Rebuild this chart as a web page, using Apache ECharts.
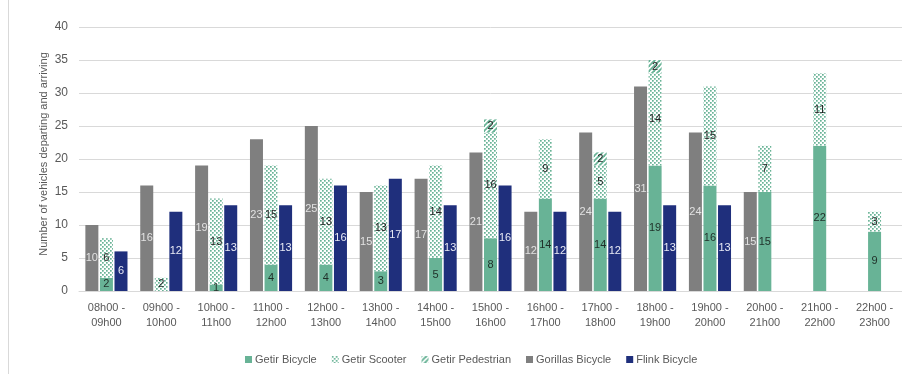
<!DOCTYPE html>
<html>
<head>
<meta charset="utf-8">
<script src="https://cdn.jsdelivr.net/npm/echarts@6/dist/echarts.min.js"></script>
<style>
html,body{margin:0;padding:0;background:#fff;}
#chart{width:902px;height:374px;}
</style>
</head>
<body>
<div id="chart"></div>
<script>
var categories = ['08h00 -\n09h00','09h00 -\n10h00','10h00 -\n11h00','11h00 -\n12h00','12h00 -\n13h00','13h00 -\n14h00','14h00 -\n15h00','15h00 -\n16h00','16h00 -\n17h00','17h00 -\n18h00','18h00 -\n19h00','19h00 -\n20h00','20h00 -\n21h00','21h00 -\n22h00','22h00 -\n23h00'];
var gorillasBicycle = [10,16,19,23,25,15,17,21,12,24,31,24,15,null,null];
var getirBicycle    = [2,null,1,4,4,3,5,8,14,14,19,16,15,22,9];
var getirScooter    = [6,2,13,15,13,13,14,16,9,5,14,15,7,11,3];
var getirPedestrian = [null,null,null,null,null,null,null,2,null,2,2,null,null,null,null];
var flinkBicycle    = [6,12,13,13,16,17,13,16,12,12,13,13,null,null,null];
var yTicks = [0,5,10,15,20,25,30,35,40];

var GREEN = '#68b396';
function dotPattern(){
  var c = document.createElement('canvas'); c.width = 4; c.height = 4;
  var g = c.getContext('2d');
  g.fillStyle = '#ffffff'; g.fillRect(0,0,4,4);
  g.fillStyle = GREEN;
  g.fillRect(0,0,1.7,1.7); g.fillRect(2,2,1.7,1.7);
  return c;
}
function stripePattern(){
  var c = document.createElement('canvas'); c.width = 5; c.height = 5;
  var g = c.getContext('2d');
  g.fillStyle = '#ffffff'; g.fillRect(0,0,5,5);
  g.strokeStyle = GREEN; g.lineWidth = 1.8;
  g.beginPath(); g.moveTo(-1,6); g.lineTo(6,-1); g.stroke();
  g.beginPath(); g.moveTo(-1,1); g.lineTo(1,-1); g.stroke();
  g.beginPath(); g.moveTo(4,6); g.lineTo(6,4); g.stroke();
  return c;
}
var scooterFill = {image: dotPattern(), repeat: 'repeat'};
var pedFill = {image: stripePattern(), repeat: 'repeat'};

var FONT = "'Liberation Sans', Arial, sans-serif";
function lbl(color){
  return {show:true, position:'inside', color:color, fontSize:11, fontFamily:FONT};
}

var chart = echarts.init(document.getElementById('chart'), null, {renderer:'canvas'});
chart.setOption({
  animation:false,
  backgroundColor:'#ffffff',
  grid:{left:79, right:0, top:27, bottom:83},
  legend:{
    data:['Getir Bicycle','Getir Scooter','Getir Pedestrian','Gorillas Bicycle','Flink Bicycle'],
    left:240, top:349, icon:'rect', itemWidth:7, itemHeight:7, itemGap:15,
    textStyle:{color:'#595959', fontSize:11, fontFamily:FONT, padding:[0,0,0,-2]}
  },
  graphic:[{type:'line', shape:{x1:8.5,y1:0,x2:8.5,y2:374}, style:{stroke:'#d9d9d9', lineWidth:1}}],
  xAxis:{
    type:'category', data:categories,
    axisLine:{lineStyle:{color:'#d9d9d9'}},
    axisTick:{show:false},
    axisLabel:{color:'#595959', fontSize:11, fontFamily:"'Liberation Sans Narrow', 'Liberation Sans', sans-serif", margin:9, lineHeight:15, interval:0}
  },
  yAxis:{
    type:'value', min:yTicks[0], max:yTicks[yTicks.length-1], interval:yTicks[1]-yTicks[0],
    name:'Number of vehicles departing and arriving', nameLocation:'middle', nameGap:30,
    nameMoveOverlap:false,
    nameTextStyle:{color:'#595959', fontSize:11, fontFamily:FONT, padding:[0,0,0,10]},
    axisLine:{show:false}, axisTick:{show:false},
    axisLabel:{color:'#595959', fontSize:12, fontFamily:FONT, margin:11},
    splitLine:{lineStyle:{color:'#d9d9d9', width:1}}
  },
  series:[
    {name:'Gorillas Bicycle', type:'bar', data:gorillasBicycle, barWidth:13, barGap:'12%',
     itemStyle:{color:'#7f7f7f'}, label:lbl('#e2e2e2')},
    {name:'Getir Bicycle', type:'bar', stack:'getir', data:getirBicycle, barWidth:13, barGap:'12%',
     itemStyle:{color:GREEN}, label:lbl('#1f2f28')},
    {name:'Getir Scooter', type:'bar', stack:'getir', data:getirScooter, barWidth:13, barGap:'12%',
     itemStyle:{color:scooterFill}, label:lbl('#262626')},
    {name:'Getir Pedestrian', type:'bar', stack:'getir', data:getirPedestrian, barWidth:13, barGap:'12%',
     itemStyle:{color:pedFill}, label:lbl('#262626')},
    {name:'Flink Bicycle', type:'bar', data:flinkBicycle, barWidth:13, barGap:'12%',
     itemStyle:{color:'#1f2f7c'}, label:lbl('#e8eaf5')}
  ]
});
</script>
</body>
</html>
